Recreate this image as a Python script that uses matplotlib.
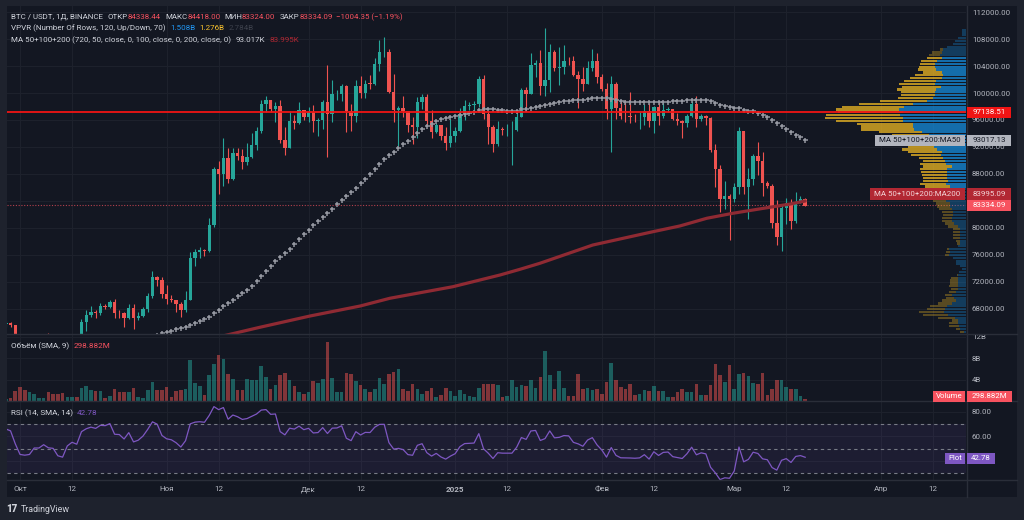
import numpy as np
import pandas as pd
import matplotlib
matplotlib.use('Agg')
import matplotlib.pyplot as plt
from matplotlib.patches import Rectangle
from matplotlib.lines import Line2D

plt.rcParams['font.family'] = ['Roboto', 'DejaVu Sans']

################################################################################
# Datos: precios en miles de USDT, volumen en miles de millones
# índice de día = días desde el 1 oct 2024 (primera vela: 28 sep 2024)
first_day = -3

opens = [65.8, 65.9, 65.6, 63.3, 60.8, 60.6, 60.75, 62.1, 62.1, 62.8,
         62.2, 62.1, 60.6, 60.3, 62.4, 63.2, 62.85, 66.1, 67.05, 67.6,
         67.4, 68.4, 68.35, 69.0, 67.4, 67.35, 66.65, 68.2, 66.6, 67.0,
         68.0, 69.9, 72.7, 72.3, 70.2, 69.5, 69.3, 68.7, 67.8, 69.35,
         75.6, 76.5, 76.7, 76.6, 80.4, 88.7, 87.95, 90.4, 87.3, 91.1,
         90.6, 89.85, 90.5, 92.3, 94.3, 98.35, 98.9, 97.7, 98.0, 93.0,
         91.9, 95.9, 95.6, 97.5, 96.4, 97.2, 95.8, 96.0, 98.6, 96.9,
         99.8, 99.9, 101.1, 97.4, 96.6, 101.1, 100.0, 101.4, 101.35, 104.3,
         106.05, 106.1, 100.2, 97.5, 97.8, 97.3, 95.2, 94.9, 98.7, 99.4,
         95.8, 94.2, 95.2, 93.6, 92.6, 93.6, 94.4, 96.9, 98.1, 98.2,
         98.3, 102.1, 96.9, 95.0, 92.5, 94.7, 94.5, 94.5, 94.5, 96.5,
         100.5, 99.9, 104.1, 104.4, 101.1, 102.0, 106.1, 103.65, 103.9, 104.8,
         104.7, 102.6, 102.1, 101.3, 103.7, 104.7, 102.4, 100.6, 97.7, 101.3,
         97.8, 96.6, 96.55, 96.5, 96.4, 96.5, 97.4, 95.8, 97.9, 96.6,
         97.5, 97.6, 96.1, 95.8, 95.5, 96.6, 98.3, 96.1, 96.6, 96.3,
         91.5, 88.7, 84.25, 84.7, 84.35, 86.1, 94.3, 86.1, 87.2, 90.6,
         89.9, 86.7, 86.15, 80.7, 78.6, 82.9, 83.7, 81.1, 83.9, 84.34]

highs = [66.3, 66.1, 65.6, 64.1, 62.4, 61.5, 62.5, 62.4, 63.0, 64.5,
         63.2, 62.5, 61.3, 63.4, 63.5, 63.3, 66.5, 67.9, 68.4, 67.9,
         68.95, 68.7, 69.4, 69.5, 67.8, 67.5, 68.8, 68.7, 67.5, 68.3,
         70.3, 73.6, 72.95, 72.7, 71.6, 70.0, 69.4, 69.0, 70.6, 76.4,
         76.9, 77.2, 76.9, 81.5, 89.0, 89.9, 93.3, 91.8, 91.9, 91.8,
         91.7, 92.6, 94.0, 94.9, 98.9, 99.6, 98.9, 98.6, 98.9, 94.9,
         97.4, 96.7, 98.7, 97.5, 97.9, 98.2, 96.3, 99.0, 104.1, 101.9,
         100.5, 101.4, 101.2, 98.3, 101.9, 102.5, 101.9, 102.65, 105.25, 107.8,
         108.35, 106.5, 102.8, 98.1, 99.5, 97.4, 96.4, 99.4, 99.9, 99.9,
         97.5, 95.5, 95.2, 94.9, 96.2, 95.0, 97.8, 98.98, 98.7, 98.8,
         102.5, 102.7, 97.3, 95.3, 95.8, 95.0, 95.4, 95.9, 97.4, 100.7,
         100.9, 105.9, 104.9, 106.3, 109.6, 107.2, 106.4, 106.85, 107.1, 105.3,
         105.5, 103.2, 103.8, 104.8, 106.5, 106.0, 102.8, 101.5, 102.5, 101.7,
         99.0, 99.0, 100.1, 96.9, 97.3, 98.3, 98.5, 98.1, 98.7, 98.8,
         97.95, 97.7, 97.0, 96.0, 96.9, 98.8, 99.5, 96.9, 96.7, 96.5,
         92.5, 89.3, 87.0, 85.1, 86.6, 95.0, 94.4, 88.9, 91.0, 92.8,
         91.3, 86.9, 86.5, 84.1, 83.6, 84.4, 84.3, 85.3, 84.7, 84.42]

lows = [65.4, 65.4, 62.9, 60.2, 59.8, 59.8, 60.5, 61.7, 61.8, 62.1,
        61.8, 60.3, 58.9, 60.0, 62.4, 62.0, 62.4, 64.8, 66.8, 66.7,
        67.1, 68.0, 68.1, 66.6, 66.6, 65.3, 66.5, 65.1, 66.4, 66.8,
        67.5, 69.7, 71.4, 69.7, 68.8, 69.0, 67.5, 66.8, 67.5, 69.3,
        74.4, 75.6, 75.8, 76.5, 80.2, 85.1, 86.2, 86.7, 87.1, 90.1,
        88.7, 89.4, 90.4, 91.5, 94.1, 97.2, 97.2, 95.7, 92.6, 90.8,
        91.8, 94.6, 95.4, 96.0, 95.7, 94.2, 93.6, 94.7, 90.5, 95.7,
        99.0, 98.8, 94.2, 94.3, 95.7, 99.3, 99.2, 100.6, 101.2, 103.3,
        105.3, 100.0, 95.7, 92.2, 96.4, 94.2, 92.4, 93.4, 97.6, 95.2,
        93.3, 94.1, 93.0, 91.5, 92.0, 92.7, 94.2, 96.0, 97.5, 97.2,
        97.9, 96.1, 92.5, 91.2, 92.2, 93.8, 93.7, 89.3, 94.3, 96.5,
        97.3, 99.9, 102.3, 99.65, 99.5, 100.1, 103.3, 101.2, 102.75, 104.1,
        102.5, 97.8, 100.3, 101.3, 103.3, 101.5, 100.3, 96.2, 91.2, 96.2,
        96.2, 95.7, 95.6, 95.7, 94.7, 95.3, 94.9, 94.1, 95.2, 96.3,
        97.2, 96.0, 95.2, 93.4, 95.0, 96.4, 94.9, 95.8, 95.2, 91.2,
        86.05, 82.3, 82.8, 78.2, 83.9, 85.0, 85.1, 81.4, 86.4, 87.8,
        84.7, 85.9, 80.0, 77.5, 76.6, 80.6, 79.9, 80.8, 83.65, 83.32]

closes = [65.9, 65.6, 63.3, 60.8, 60.6, 60.75, 62.1, 62.1, 62.8, 62.2,
          62.1, 60.6, 60.3, 62.4, 63.2, 62.85, 66.1, 67.05, 67.6, 67.4,
          68.4, 68.35, 69.0, 67.4, 67.35, 66.65, 68.2, 66.6, 67.0, 68.0,
          69.9, 72.7, 72.3, 70.2, 69.5, 69.3, 68.7, 67.8, 69.35, 75.6,
          76.5, 76.7, 76.6, 80.4, 88.7, 87.95, 90.4, 87.3, 91.1, 90.6,
          89.85, 90.5, 92.3, 94.3, 98.35, 98.9, 97.7, 98.0, 93.0, 91.9,
          95.9, 95.6, 97.5, 96.4, 97.2, 95.8, 96.0, 98.6, 96.9, 99.8,
          99.9, 101.1, 97.4, 96.6, 101.1, 100.0, 101.4, 101.35, 104.3, 106.05,
          106.1, 100.2, 97.5, 97.8, 97.3, 95.2, 94.9, 98.7, 99.4, 95.8,
          94.2, 95.2, 93.6, 92.6, 93.6, 94.4, 96.9, 98.1, 98.2, 98.3,
          102.1, 96.9, 95.0, 92.5, 94.7, 94.5, 94.5, 94.5, 96.5, 100.5,
          99.9, 104.1, 104.4, 101.1, 102.0, 106.1, 103.65, 103.9, 104.8, 104.7,
          102.6, 102.1, 101.3, 103.7, 104.7, 102.4, 100.6, 97.7, 101.3, 97.8,
          96.6, 96.55, 96.5, 96.4, 96.5, 97.4, 95.8, 97.9, 96.6, 97.5,
          97.6, 96.1, 95.8, 95.5, 96.6, 98.3, 96.1, 96.6, 96.3, 91.5,
          88.7, 84.25, 84.7, 84.35, 86.1, 94.3, 86.1, 87.2, 90.6, 89.9,
          86.7, 86.15, 80.7, 78.6, 82.9, 83.7, 81.1, 83.9, 84.3, 83.33]

volumes = [0.4, 0.6, 1.9, 2.7, 2.0, 1.6, 1.4, 0.5, 0.6, 1.7,
           1.3, 1.3, 1.5, 0.7, 0.8, 0.8, 2.4, 2.9, 2.0, 1.8,
           1.9, 0.6, 1.0, 2.2, 1.7, 1.7, 1.7, 2.4, 0.7, 0.6,
           2.0, 3.6, 2.0, 2.0, 2.7, 0.8, 1.9, 2.0, 2.3, 7.6,
           3.4, 2.8, 1.1, 4.9, 7.0, 8.6, 7.8, 5.1, 4.2, 2.0,
           2.0, 4.2, 4.0, 4.0, 6.6, 4.5, 2.3, 3.0, 4.8, 5.3,
           3.9, 2.8, 1.6, 1.4, 1.7, 3.7, 3.4, 4.2, 11.0, 4.3,
           1.6, 1.6, 5.2, 5.0, 3.7, 3.0, 2.2, 1.6, 2.3, 4.4,
           3.2, 5.1, 5.5, 6.0, 2.3, 1.9, 3.1, 2.2, 1.4, 1.9,
           2.5, 0.7, 1.2, 2.5, 1.9, 1.0, 2.1, 1.4, 0.9, 0.7,
           2.5, 3.2, 3.2, 3.2, 3.0, 0.7, 0.9, 4.0, 2.6, 3.0,
           2.8, 4.0, 2.5, 4.5, 9.4, 4.8, 2.3, 5.6, 2.4, 1.0,
           1.0, 5.1, 2.2, 2.4, 2.0, 2.3, 1.3, 3.5, 7.2, 4.0,
           2.6, 2.3, 3.2, 1.1, 1.4, 2.0, 1.9, 2.8, 1.9, 1.8,
           0.7, 0.7, 1.6, 2.2, 1.7, 1.7, 3.2, 1.1, 1.1, 3.0,
           7.0, 4.9, 3.6, 6.8, 2.2, 5.0, 5.3, 4.7, 3.4, 3.2,
           5.2, 1.2, 2.2, 3.9, 3.9, 2.7, 2.2, 2.2, 0.9, 0.3]

# cierres previos (8 ago - 27 sep) solo para la MA50 y el RSI
closes_before = [61.7, 60.9, 60.9, 58.7, 59.35, 60.6, 58.7, 57.55, 58.9, 59.5,
                 58.4, 59.5, 59.0, 61.2, 60.4, 64.1, 64.2, 64.25, 62.8, 59.4,
                 59.0, 59.4, 59.1, 58.97, 57.3, 59.1, 57.5, 57.97, 56.2, 53.95,
                 54.15, 54.8, 57.0, 57.65, 57.3, 58.1, 60.5, 60.0, 59.1, 58.2,
                 60.3, 61.75, 62.9, 63.2, 63.35, 63.6, 63.3, 64.3, 63.1, 65.2,
                 65.8]

# MA200
ma200_days = [30, 44.4, 50.7, 61.3, 71.9, 78.2, 91.5, 101.5, 105.7, 109.9,
              121.1, 133.8, 139.5, 145.2, 150.7, 157.9, 162.8, 166]
ma200_vals = [61.9, 64.25, 65.29, 66.96, 68.44, 69.59, 71.3, 73.04, 73.88, 74.77,
              77.48, 79.45, 80.3, 81.44, 82.18, 83.0, 83.55, 83.995]

hline_price = 97.13851
last_close = 83.33409

date_ticks = [0, 11, 31, 42, 61, 72, 92, 103, 123, 134, 151, 162, 182, 193]
date_labels = ['Окт', '12', 'Ноя', '12', 'Дек', '12', '2025', '12', 'Фев', '12', 'Мар', '12', 'Апр', '12']
price_ticks = [68, 72, 76, 80, 84, 88, 92, 96, 100, 104, 108, 112]
################################################################################

UP = '#26a69a'
DOWN = '#ef5350'
BG = '#131722'
FRAME = '#1e222d'
GRID = '#1d212c'
SEP = '#2a2e39'
TXT = '#b2b5be'
HEAD = '#d1d4dc'

W, H = 1024, 520
def fx(x):
    return x / W
def fy(y):
    return 1 - y / H

fig = plt.figure(figsize=(10.24, 5.2), dpi=100, facecolor=FRAME)
fig.patches.append(Rectangle((fx(7), fy(497)), fx(1017 - 7), (497 - 6) / H,
                             transform=fig.transFigure, facecolor=BG, edgecolor='none', zorder=-10))

def pane(y0, y1):
    a = fig.add_axes([fx(7), fy(y1), fx(966 - 7), (y1 - y0) / H])
    a.set_facecolor(BG)
    for s in a.spines.values():
        s.set_visible(False)
    a.set_xlim(-2.75, 200.0)
    a.yaxis.tick_right()
    a.tick_params(axis='y', length=0, pad=4.3, labelsize=5.7, labelcolor=TXT)
    a.tick_params(axis='x', length=0, labelbottom=False)
    a.set_xticks(date_ticks)
    a.grid(color=GRID, lw=0.8)
    a.set_axisbelow(True)
    return a

ax = pane(6, 334)
axv = pane(334, 401)
axr = pane(401, 480)

n = len(closes)
days = np.arange(first_day, first_day + n)
o = np.array(opens); h = np.array(highs); l = np.array(lows); c = np.array(closes)
cols = np.where(c >= o, UP, DOWN)

# Velas (la etiqueta de 84000 queda tapada por las cajas de precio)
ax.set_ylim(64.296, 112.889)
ax.set_yticks(price_ticks, ['' if p == 84 else f'{p * 1000}.00' for p in price_ticks])
ax.vlines(days, l, h, colors=cols, lw=0.8, zorder=3)
ax.bar(days, np.maximum(np.abs(c - o), 0.06), bottom=np.minimum(o, c), width=0.72,
       color=cols, linewidth=0, zorder=4)

# MA50 y MA200
serie = pd.Series(closes_before + closes)
ma50 = serie.rolling(50).mean().to_numpy()[len(closes_before):]
ax.plot(days, ma50, ls='none', marker='+', ms=3.6, mew=1.1, color='#9598a1', zorder=5)
ax.plot(ma200_days, ma200_vals, color='#8f2a33', lw=2.3, solid_capstyle='round', zorder=5)

# Perfil de volumen (VPVR, 120 filas, 70%)
filas = 120
bordes = np.linspace(l.min(), h.max(), filas + 1)
vol_up = np.zeros(filas)
vol_dn = np.zeros(filas)
for oo, hh, ll, cc, vv in zip(o, h, l, c, volumes):
    solape = np.clip(np.minimum(bordes[1:], hh) - np.maximum(bordes[:-1], ll), 0, None)
    parte = vv * solape / max(hh - ll, 1e-9)
    if cc >= oo:
        vol_up += parte
    else:
        vol_dn += parte
total = vol_up + vol_dn
poc = int(np.argmax(total))
i = j = poc
acum = total[poc]
while acum < 0.7 * total.sum():
    arriba = total[j + 1] if j + 1 < filas else -1
    abajo = total[i - 1] if i - 1 >= 0 else -1
    if arriba >= abajo:
        j += 1; acum += arriba
    else:
        i -= 1; acum += abajo
en_va = (np.arange(filas) >= i) & (np.arange(filas) <= j)
escala = 141 / total.max() / 4.73   # días por unidad de volumen
centros = (bordes[:-1] + bordes[1:]) / 2
alto = (bordes[1] - bordes[0]) * 0.78
w_up = vol_up * escala
w_dn = vol_dn * escala
alfa = np.where(en_va, 0.7, 0.3)
for k in range(filas):
    ax.barh(centros[k], w_up[k], left=200.0 - w_up[k], height=alto, color='#1592e6',
            alpha=alfa[k], linewidth=0, zorder=6)
    ax.barh(centros[k], w_dn[k], left=200.0 - w_up[k] - w_dn[k], height=alto, color='#fbc123',
            alpha=alfa[k], linewidth=0, zorder=6)

ax.axhline(hline_price, color='#f01414', lw=1.3, zorder=7)
ax.axhline(last_close, color='#f7525f', lw=0.8, ls=(0, (1, 1.5)), alpha=0.7, zorder=2)

# Volumen
axv.set_ylim(0, 12.56)
axv.set_yticks([4, 8, 12], ['4B', '8B', '12B'])
axv.bar(days, volumes, width=0.76, color=cols, alpha=0.5, linewidth=0)

# RSI (la etiqueta 40.00 queda tapada por la caja "Plot")
delta = serie.diff()
gan = delta.clip(lower=0).ewm(alpha=1 / 14, adjust=False).mean()
per = (-delta.clip(upper=0)).ewm(alpha=1 / 14, adjust=False).mean()
rsi = (100 - 100 / (1 + gan / per)).to_numpy()[len(closes_before):]
axr.set_ylim(24.3, 88.8)
axr.set_yticks([40, 60, 80], ['', '60.00', '80.00'])
axr.axhspan(30, 70, color='#7e57c2', alpha=0.1, lw=0)
for nivel in [30, 50, 70]:
    axr.axhline(nivel, color='#787b86', lw=0.8, ls=(0, (3, 3)))
axr.plot(days, rsi, color='#7e57c2', lw=0.9)
axr.set_xticks(date_ticks, date_labels)
axr.tick_params(axis='x', labelbottom=True, labelsize=5.8, labelcolor=TXT, pad=4.5)
axr.get_xticklabels()[6].set_fontweight('bold')

# Separadores
for yy in [334, 401, 480]:
    fig.add_artist(Line2D([fx(7), fx(1017)], [fy(yy), fy(yy)], color=SEP, lw=1))
fig.add_artist(Line2D([fx(966.5), fx(966.5)], [fy(6), fy(497)], color=SEP, lw=1))

# Etiquetas a la derecha
def caja(x0, x1, yc, texto, fondo, color):
    fig.patches.append(Rectangle((fx(x0), fy(yc + 5.5)), fx(x1 - x0), 11 / H,
                                 transform=fig.transFigure, facecolor=fondo, edgecolor='none', zorder=8))
    fig.text(fx((x0 + x1) / 2), fy(yc), texto, ha='center', va='center', color=color,
             fontsize=5.7, zorder=9)

def y_precio(p):
    return 12 + (112 - p) / 4 * 27

caja(967, 1011, y_precio(hline_price), '97138.51', '#f01414', 'white')
caja(875, 965, y_precio(93.01713), 'MA 50+100+200:MA50', '#b2b5be', BG)
caja(967, 1011, y_precio(93.01713), '93017.13', '#b2b5be', BG)
caja(870, 965, 194, 'MA 50+100+200:MA200', '#b22833', '#f2d5d8')
caja(967, 1011, 194, '83995.09', '#b22833', '#f2d5d8')
caja(967, 1011, 205.5, '83334.09', '#f7525f', 'white')
caja(933, 965, 396, 'Volume', '#f7525f', 'white')
caja(967, 1012, 396, '298.882M', '#f7525f', 'white')
caja(945, 965, 458, 'Plot', '#7e57c2', 'white')
caja(967, 995, 458, '42.78', '#7e57c2', 'white')

# Textos de cabecera
rend = fig.canvas.get_renderer()
def linea(x, y, partes, size=5.8):
    for texto, color, hueco in partes:
        t = fig.text(fx(x), fy(y), texto, color=color, fontsize=size, ha='left', va='center')
        x += t.get_window_extent(renderer=rend).width + hueco

ROJO = '#f7525f'
linea(11, 17, [('BTC / USDT, 1Д, BINANCE', HEAD, 5), ('ОТКР', HEAD, 0), ('84338.44', ROJO, 4),
               ('МАКС', HEAD, 0), ('84418.00', ROJO, 4), ('МИН', HEAD, 0), ('83324.00', ROJO, 4),
               ('ЗАКР', HEAD, 0), ('83334.09', ROJO, 4), ('−1004.35 (−1.19%)', ROJO, 0)], size=5.7)
linea(11, 28, [('VPVR (Number Of Rows, 120, Up/Down, 70)', HEAD, 5), ('1.508B', '#2196f3', 4),
               ('1.276B', '#f9c22e', 4), ('2.784B', '#3d414c', 0)])
linea(11, 40, [('MA 50+100+200 (720, 50, close, 0, 100, close, 0, 200, close, 0)', HEAD, 5),
               ('93.017K', HEAD, 4), ('83.995K', '#b22833', 0)])
linea(11, 346, [('Объём (SMA, 9)', HEAD, 4), ('298.882M', ROJO, 0)], size=5.9)
linea(11, 413, [('RSI (14, SMA, 14)', HEAD, 4), ('42.78', '#7e57c2', 0)], size=5.9)

# Logo
fig.text(fx(6), fy(509), '17', color=HEAD, fontsize=7, fontweight='heavy', ha='left', va='center')
fig.text(fx(21), fy(509), 'TradingView', color=HEAD, fontsize=6.4, ha='left', va='center')

fig.savefig('out.png', dpi=100, facecolor=FRAME)
